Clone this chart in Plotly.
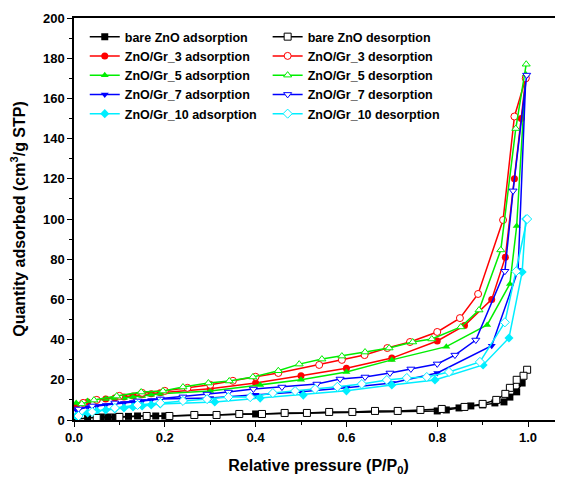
import plotly.graph_objects as go

# bare ZnO
bare_ads_p = [0.005, 0.03, 0.06, 0.075, 0.09, 0.1, 0.12, 0.14, 0.16, 0.18, 0.2, 0.4, 0.8, 0.82, 0.848, 0.874, 0.9, 0.927, 0.947, 0.96, 0.975, 0.987]
bare_ads_v = [0.5, 1, 1.5, 1.5, 1.5, 1.8, 1.8, 2, 2, 2, 2, 3, 4.5, 5, 6, 7, 7.5, 8.5, 9, 11.4, 14, 18.4]
bare_des_p = [0.998, 0.99, 0.975, 0.96, 0.95, 0.93, 0.9, 0.86, 0.81, 0.763, 0.713, 0.663, 0.613, 0.562, 0.513, 0.464, 0.414, 0.364, 0.314, 0.265, 0.21, 0.16, 0.1, 0.05]
bare_des_v = [25, 22, 20, 16, 13, 10, 8, 6.5, 5.5, 5, 4.5, 4.5, 4, 4, 3.5, 3.5, 3, 3, 2.5, 2.5, 2, 2, 1.5, 1]

# ZnO/Gr_3
gr3_ads_p = [0.005, 0.03, 0.05, 0.07, 0.09, 0.11, 0.13, 0.15, 0.17, 0.19, 0.3, 0.4, 0.5, 0.6, 0.7, 0.8, 0.86, 0.92, 0.95, 0.97, 0.985, 0.995]
gr3_ads_v = [7, 9, 10, 10.5, 11, 11.5, 12, 12.5, 13, 13.5, 15.5, 18.4, 22, 25.8, 30.8, 39.3, 47, 60, 81, 120, 150, 170]
gr3_des_p = [0.995, 0.97, 0.945, 0.89, 0.85, 0.8, 0.74, 0.69, 0.64, 0.59, 0.54, 0.45, 0.4, 0.35, 0.3, 0.25, 0.2, 0.15, 0.1, 0.05, 0.02]
gr3_des_v = [170, 151, 99.5, 62.7, 50.7, 43.8, 38.8, 35.8, 32.3, 29.9, 27.4, 23.4, 21.5, 19.5, 17.5, 16, 14.5, 13.5, 12, 10, 8.5]

# ZnO/Gr_5
gr5_ads_p = [0.005, 0.03, 0.05, 0.07, 0.09, 0.11, 0.13, 0.15, 0.17, 0.19, 0.3, 0.41, 0.5, 0.6, 0.7, 0.82, 0.91, 0.96, 0.975, 0.995]
gr5_ads_v = [8.5, 9.5, 10, 10.5, 11, 11, 11.5, 12, 12.5, 13, 14.4, 17.4, 20, 23.9, 29.9, 36.5, 47.3, 67.7, 96.5, 172]
gr5_des_p = [0.996, 0.973, 0.94, 0.892, 0.852, 0.788, 0.746, 0.694, 0.641, 0.59, 0.546, 0.496, 0.45, 0.394, 0.342, 0.296, 0.24, 0.196, 0.148, 0.094, 0.044, 0.017]
gr5_des_v = [177, 145, 84.6, 54.7, 46.3, 40.3, 38.8, 35.8, 33.8, 31.8, 30.3, 27.8, 24.5, 21.4, 19.4, 18.4, 16.4, 14.4, 13.9, 11.9, 9.9, 8]

# ZnO/Gr_7
gr7_ads_p = [0.005, 0.03, 0.05, 0.07, 0.09, 0.11, 0.13, 0.15, 0.17, 0.19, 0.3, 0.4, 0.5, 0.6, 0.7, 0.8, 0.92, 0.978, 0.995]
gr7_ads_v = [5, 6.5, 7, 7.5, 8, 8.5, 9, 9.5, 10, 10.5, 11, 12.5, 14, 16, 18.4, 23.4, 37, 74.6, 170]
gr7_des_p = [0.997, 0.967, 0.949, 0.885, 0.839, 0.8, 0.742, 0.696, 0.641, 0.586, 0.535, 0.458, 0.395, 0.34, 0.293, 0.24, 0.19, 0.14, 0.09, 0.04, 0.01]
gr7_des_v = [171.6, 114, 74, 39.8, 32.3, 27.9, 25.4, 23.4, 21.4, 20.4, 17.9, 16.4, 15.4, 13.9, 12.9, 11.5, 10.5, 9.5, 8.5, 7, 5.5]

# ZnO/Gr_10
gr10_ads_p = [0.005, 0.03, 0.05, 0.07, 0.09, 0.11, 0.13, 0.15, 0.17, 0.19, 0.31, 0.41, 0.505, 0.6, 0.7, 0.795, 0.901, 0.958, 0.987, 0.995]
gr10_ads_v = [2, 3.5, 4.5, 5, 5.5, 6, 6.5, 7, 7.5, 8, 9, 10.9, 12.4, 14.5, 17.4, 19.9, 27.4, 40.8, 73.6, 100]
gr10_des_p = [0.998, 0.974, 0.949, 0.894, 0.826, 0.777, 0.733, 0.689, 0.634, 0.58, 0.531, 0.487, 0.438, 0.388, 0.34, 0.293, 0.24, 0.19, 0.14, 0.09, 0.04, 0.01]
gr10_des_v = [100, 74, 48.6, 28.9, 23.9, 21.4, 20.9, 19.9, 17.9, 16.5, 15.4, 14.4, 13.4, 11.4, 11.4, 10.4, 9.5, 8.5, 7.5, 6, 4, 2]

FONT = "Arial, Liberation Sans, sans-serif"

series = [
    ("bare ZnO", "#000000", "square", bare_ads_p, bare_ads_v, bare_des_p, bare_des_v),
    ("ZnO/Gr_3", "#ff0000", "circle", gr3_ads_p, gr3_ads_v, gr3_des_p, gr3_des_v),
    ("ZnO/Gr_5", "#00ee00", "triangle-up", gr5_ads_p, gr5_ads_v, gr5_des_p, gr5_des_v),
    ("ZnO/Gr_7", "#0000ff", "triangle-down", gr7_ads_p, gr7_ads_v, gr7_des_p, gr7_des_v),
    ("ZnO/Gr_10", "#00eeff", "diamond", gr10_ads_p, gr10_ads_v, gr10_des_p, gr10_des_v),
]

fig = go.Figure()

for name, col, sym, ap, av, dp, dv in series:
    fig.add_trace(go.Scatter(
        x=ap, y=av, mode="lines+markers", name=name + " adsorption",
        line=dict(color=col, width=1.5),
        marker=dict(symbol=sym, size=7, color=col),
        legend="legend"
    ))
for name, col, sym, ap, av, dp, dv in series:
    fig.add_trace(go.Scatter(
        x=dp, y=dv, mode="lines+markers", name=name + " desorption",
        line=dict(color=col, width=1.5),
        marker=dict(symbol=sym, size=7, color="white", line=dict(color=col, width=1)),
        legend="legend2"
    ))

legend_style = dict(
    font=dict(family=FONT, size=12.5, color="black", weight="bold"),
    bgcolor="rgba(0,0,0,0)", tracegroupgap=0,
    xanchor="left", yanchor="top", y=0.99, itemwidth=30,
)

# the page body adds an 8px offset, so the figure is a bit smaller than the window
fig.update_layout(
    width=555, height=472,
    margin=dict(l=66, r=0, t=10, b=60),
    plot_bgcolor="white", paper_bgcolor="white",
    showlegend=True,
    legend=dict(x=0.022, **legend_style),
    legend2=dict(x=0.396, **legend_style),
    xaxis=dict(
        range=[0, 1.077], dtick=0.2, tick0=0, tickformat=".1f",
        showgrid=False, zeroline=False, automargin=False,
        showline=True, linecolor="black", linewidth=1.5, mirror=True,
        ticks="outside", ticklen=5, tickwidth=1.2, tickcolor="black",
        minor=dict(dtick=0.1, ticks="outside", ticklen=3, tickcolor="black"),
        tickfont=dict(family=FONT, size=13, color="black", weight="bold"),
        title=dict(text="Relative pressure (P/P<sub>0</sub>)",
                   font=dict(family=FONT, size=16, color="black", weight="bold")),
    ),
    yaxis=dict(
        range=[0, 200], dtick=20,
        showgrid=False, zeroline=False, automargin=False,
        showline=True, linecolor="black", linewidth=1.5,
        ticks="outside", ticklen=5, tickwidth=1.2, tickcolor="black",
        minor=dict(dtick=10, ticks="outside", ticklen=3, tickcolor="black"),
        tickfont=dict(family=FONT, size=13, color="black", weight="bold"),
        title=dict(text="Quantity adsorbed (cm<sup>3</sup>/g STP)",
                   font=dict(family=FONT, size=16, color="black", weight="bold")),
    ),
)

fig.write_html("out.html")
